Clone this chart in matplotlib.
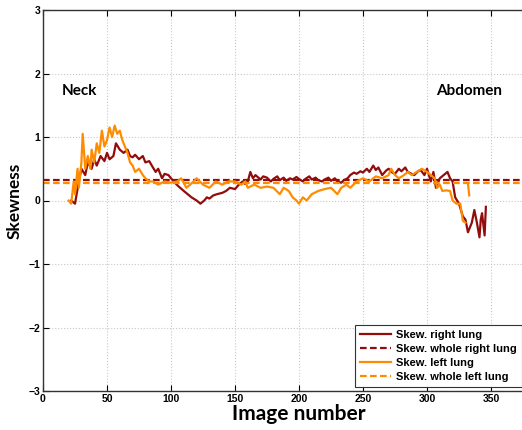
"""Skewness of right and left lung along the image stack."""

import numpy as np
import matplotlib.pyplot as plt

NAN = np.nan

right_x = [22, 25, 28, 30, 33, 35, 38, 40, 42, 45, 48, 50, 52, 55, 57, 60, 63, 66, 68, 70, 72,
           75, 78, 80, 83, 85, 88, 90, 93, 95, 98, 100, 103, 106, 110, 113, 116, 120, 123, 126,
           128, 130, 133, 136, 140, 143, 146, 150, 153, 156, 158, 160, 162, 164, 166, 170, 172,
           175, 178, 180, 183, 185, 188, 190, 193, 195, 198, 200, 203, 205, 208, 210, 213, 215,
           218, 220, 223, 225, 228, 230, 233, 235, 238, 240, 243, 245, 248, 250, 253, 255, 258,
           260, 262, 265, 268, 270, 273, 275, 278, 280, 283, 285, 288, 290, 293, 295, 298, 300,
           303, 305, 307, 310, 313, 316, 318, 320, 322, 325, 328, 330, 332, 335, 337, 339, 341,
           342, 343, 345, 346]
right_y = [0.0, -0.05, 0.3, 0.5, 0.4, 0.6, 0.5, 0.65, 0.55, 0.7, 0.62, 0.75, 0.65, 0.7, 0.9,
           0.8, 0.75, 0.8, 0.7, 0.68, 0.72, 0.65, 0.7, 0.6, 0.62, 0.55, 0.45, 0.5, 0.35, 0.42,
           0.4, 0.35, 0.28, 0.22, 0.15, 0.1, 0.05, 0.0, -0.05, 0.0, 0.05, 0.03, 0.08, 0.1, 0.12,
           0.15, 0.2, 0.18, 0.25, 0.3, 0.26, 0.3, 0.45, 0.35, 0.4, 0.33, 0.38, 0.36, 0.3, 0.34,
           0.38, 0.32, 0.36, 0.31, 0.35, 0.33, 0.37, 0.34, 0.3, 0.34, 0.38, 0.33, 0.36, 0.32,
           0.3, 0.33, 0.36, 0.31, 0.35, 0.3, 0.28, 0.32, 0.35, 0.4, 0.44, 0.42, 0.46, 0.44, 0.5,
           0.45, 0.55, 0.48, 0.52, 0.4, 0.47, 0.5, 0.44, 0.42, 0.5, 0.46, 0.52, 0.45, 0.42, 0.4,
           0.46, 0.48, 0.4, 0.5, 0.3, 0.45, 0.2, 0.35, 0.4, 0.45, 0.35, 0.3, 0.05, -0.05, -0.25,
           -0.3, -0.5, -0.35, -0.15, -0.35, -0.58, -0.3, -0.2, -0.55, -0.1]

left_x = [20, 22, 24, 25, 27, 28, 30, 31, 33, 35, 37, 38, 40, 42, 44, 46, 48, 50, 52, 54,
          56, 58, 60, 62, 64, 66, 68, 70, 72, 75, 78, 80, 83, 86, 90, 95, 100, 105, 108, 112,
          115, 120, 125, 130, 135, 140, 145, 150, 155, 158, 160, 165, 170, 175, 180, 185, 188,
          192, 195, 198, 200, 203, 206, 210, 215, 220, 225, 230, 233, 237, 240, 245, 250, 255,
          260, 265, 270, 272, 275, 278, 282, 285, 288, 292, 296, 300, 303, 306, 308, 310, 312,
          315, 318, 320, 323, 326, 328, 330, 331, 332, 333]
left_y = [0.0, -0.05, 0.3, 0.1, 0.5, 0.2, 0.6, 1.05, 0.5, 0.7, 0.5, 0.8, 0.6, 0.9, 0.75,
          1.1, 0.85, 0.95, 1.15, 1.0, 1.18, 1.05, 1.1, 0.95, 0.85, 0.75, 0.6, 0.55, 0.45, 0.5,
          0.4, 0.35, 0.3, 0.3, 0.25, 0.3, 0.28, 0.3, 0.35, 0.2, 0.25, 0.35, 0.25, 0.2, 0.3,
          0.25, 0.3, 0.3, 0.25, 0.3, 0.2, 0.25, 0.2, 0.22, 0.2, 0.1, 0.2, 0.15, 0.05, 0.0,
          -0.05, 0.05, 0.0, 0.1, 0.15, 0.18, 0.2, 0.1, 0.2, 0.25, 0.2, 0.3, 0.35, 0.3, 0.38,
          0.35, 0.4, 0.5, 0.4, 0.35, 0.4, 0.45, 0.4, 0.45, 0.5, 0.45, 0.4, 0.35, 0.2, 0.25,
          0.15, 0.16, 0.15, 0.0, -0.05, -0.05, -0.32, -0.35, NAN, 0.27, 0.08]

right_whole = 0.33
left_whole = 0.28

legend_labels = ['Skew. right lung', 'Skew. whole right lung',
                 'Skew. left lung', 'Skew. whole left lung']

RED = '#920c0c'
ORANGE = '#ff8c00'

# the original axes run past the right edge of the picture (x up to ~400)
fig = plt.figure(figsize=(5.22, 4.30), dpi=100)
ax = fig.add_axes([43 / 522, 39 / 430, 512 / 522, 381 / 430])

ax.plot(right_x, right_y, color=RED, lw=1.6, label=legend_labels[0])
ax.axhline(right_whole, color=RED, lw=1.6, ls='--', dashes=(3, 1.5), label=legend_labels[1])
ax.plot(left_x, left_y, color=ORANGE, lw=1.6, label=legend_labels[2])
ax.axhline(left_whole, color=ORANGE, lw=1.6, ls='--', dashes=(3, 1.5), label=legend_labels[3])

ax.set_xlim(0, 400)
ax.set_ylim(-3, 3)
ax.set_xticks(np.arange(0, 351, 50))
ax.set_yticks(np.arange(-3, 4, 1))
ax.grid(True, color='#c8c8c8', ls=':', lw=0.8)
ax.tick_params(direction='in', top=True, right=True, length=4, width=0.8,
               labelsize=7.5, pad=2)
for lab in ax.get_xticklabels() + ax.get_yticklabels():
    lab.set_fontfamily('Liberation Sans')
    lab.set_fontweight('bold')
for sp in ax.spines.values():
    sp.set_color('#333333')
    sp.set_linewidth(1.0)

ax.set_xlabel('Image number', fontfamily='Lato', fontweight='bold', fontsize=15, labelpad=0)
ax.set_ylabel('Skewness', fontfamily='Lato', fontweight='bold', fontsize=12.5, labelpad=4)

ax.text(15, 1.73, 'Neck', fontfamily='Lato', fontweight='bold', fontsize=11, va='center')
ax.text(307, 1.73, 'Abdomen', fontfamily='Lato', fontweight='bold', fontsize=11, va='center')

leg = ax.legend(loc='lower right', bbox_to_anchor=(1.0, 43 / 430), bbox_transform=fig.transFigure,
                prop={'family': 'Liberation Sans', 'weight': 'bold', 'size': 8},
                frameon=True, fancybox=False, edgecolor='#333333', framealpha=1,
                handlelength=2.8, handletextpad=0.5, labelspacing=0.35,
                borderpad=0.45, borderaxespad=0.0)
leg.get_frame().set_linewidth(0.8)

fig.savefig('out.png', dpi=100)
